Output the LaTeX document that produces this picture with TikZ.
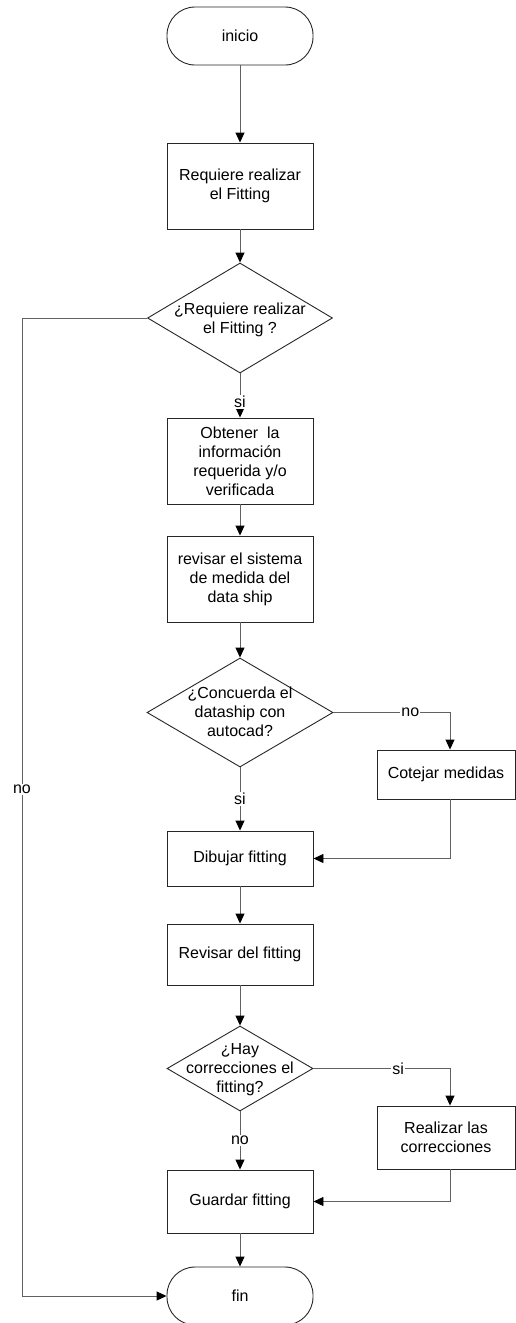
\documentclass[tikz,border=0pt]{standalone}
\usepackage{fontspec}
\setmainfont{Liberation Sans}
\usetikzlibrary{shapes.geometric,arrows.meta}
\begin{document}
\begin{tikzpicture}[x=1pt,y=-1pt,
  every node/.style={font=\fontsize{16}{19}\selectfont, align=center},
  box/.style={draw=black!85, line width=0.9pt, minimum width=146pt, inner sep=0pt},
  term/.style={draw=black!85, line width=0.9pt, rounded corners=28pt, minimum width=146pt, inner sep=0pt},
  dec/.style={draw=black!85, line width=0.9pt, diamond, inner sep=0pt},
  flow/.style={draw=black!62, line width=0.9pt, -{Triangle[length=10pt,width=9pt,color=black]}},
  wire/.style={draw=black!62, line width=0.9pt},
  lbl/.style={fill=white, inner sep=1pt}
]
\clip (0,0) rectangle (516,1323);

% main column
\node[term, minimum height=58pt] (ini) at (240,36) {inicio};
\node[box, minimum height=86pt] (req) at (240,186) {Requiere realizar\\el Fitting};
\node[dec, minimum width=185pt, minimum height=110pt] (d1) at (240,318) {};
\node (d1t) at (240,320) {¿Requiere realizar\\el Fitting ?};
\node[box, minimum height=86pt] (obt) at (240,461) {Obtener\ \ la\\información\\requerida y/o\\verificada};
\node[box, minimum height=86pt] (rsm) at (240,579) {revisar el sistema\\de medida del\\data ship};
\node[dec, minimum width=186pt, minimum height=109pt] (d2) at (240,712.5) {};
\node (d2t) at (240,712) {¿Concuerda el\\dataship con\\autocad?};
\node[box, minimum height=55pt] (dib) at (240,858.5) {Dibujar fitting};
\node[box, minimum height=61pt] (rvf) at (240,954.5) {Revisar del fitting};
\node[dec, minimum width=146pt, minimum height=85pt] (d3) at (240,1068.5) {};
\node (d3t) at (240,1070) {¿Hay\\correcciones el\\fitting?};
\node[box, minimum height=63pt] (gua) at (240,1201.5) {Guardar fitting};
\node[term, minimum height=58pt] (fin) at (240,1296) {fin};

% side column
\node[box, minimum width=138pt, minimum height=49pt] (cot) at (446,774.5) {Cotejar medidas};
\node[box, minimum width=138pt, minimum height=63pt] (rea) at (446,1137.5) {Realizar las\\correcciones};

% bend points
\coordinate (nA) at (450,712.5);
\coordinate (nB) at (450,858.5);
\coordinate (sA) at (450,1068.5);
\coordinate (sB) at (450,1201.5);
\coordinate (lA) at (22,318);
\coordinate (lB) at (22,1296);

% connectors
\draw[flow] (ini) -- (req);
\draw[flow] (req) -- (d1);
\draw[flow] (d1.south) -- node[lbl, pos=0.64] {si} (obt.north);
\draw[flow] (obt) -- (rsm);
\draw[flow] (rsm) -- (d2);
\draw[flow] (d2.east) -- node[lbl, pos=0.66] {no} (nA) -- (nA |- cot.north);
\draw[flow] (d2.south) -- node[lbl, pos=0.5] {si} (dib.north);
\draw[flow] (nA |- cot.south) -- (nB) -- (dib.east);
\draw[flow] (dib) -- (rvf);
\draw[flow] (rvf) -- (d3);
\draw[flow] (d3.east) -- node[lbl, pos=0.62] {si} (sA) -- (sA |- rea.north);
\draw[flow] (d3.south) -- node[lbl, pos=0.5] {no} (gua.north);
\draw[flow] (sA |- rea.south) -- (sB) -- (gua.east);
\draw[flow] (gua) -- (fin);
\draw[flow] (d1.west) -- (lA) -- node[lbl, pos=0.482] {no} (lB) -- (fin.west);
\end{tikzpicture}
\end{document}
